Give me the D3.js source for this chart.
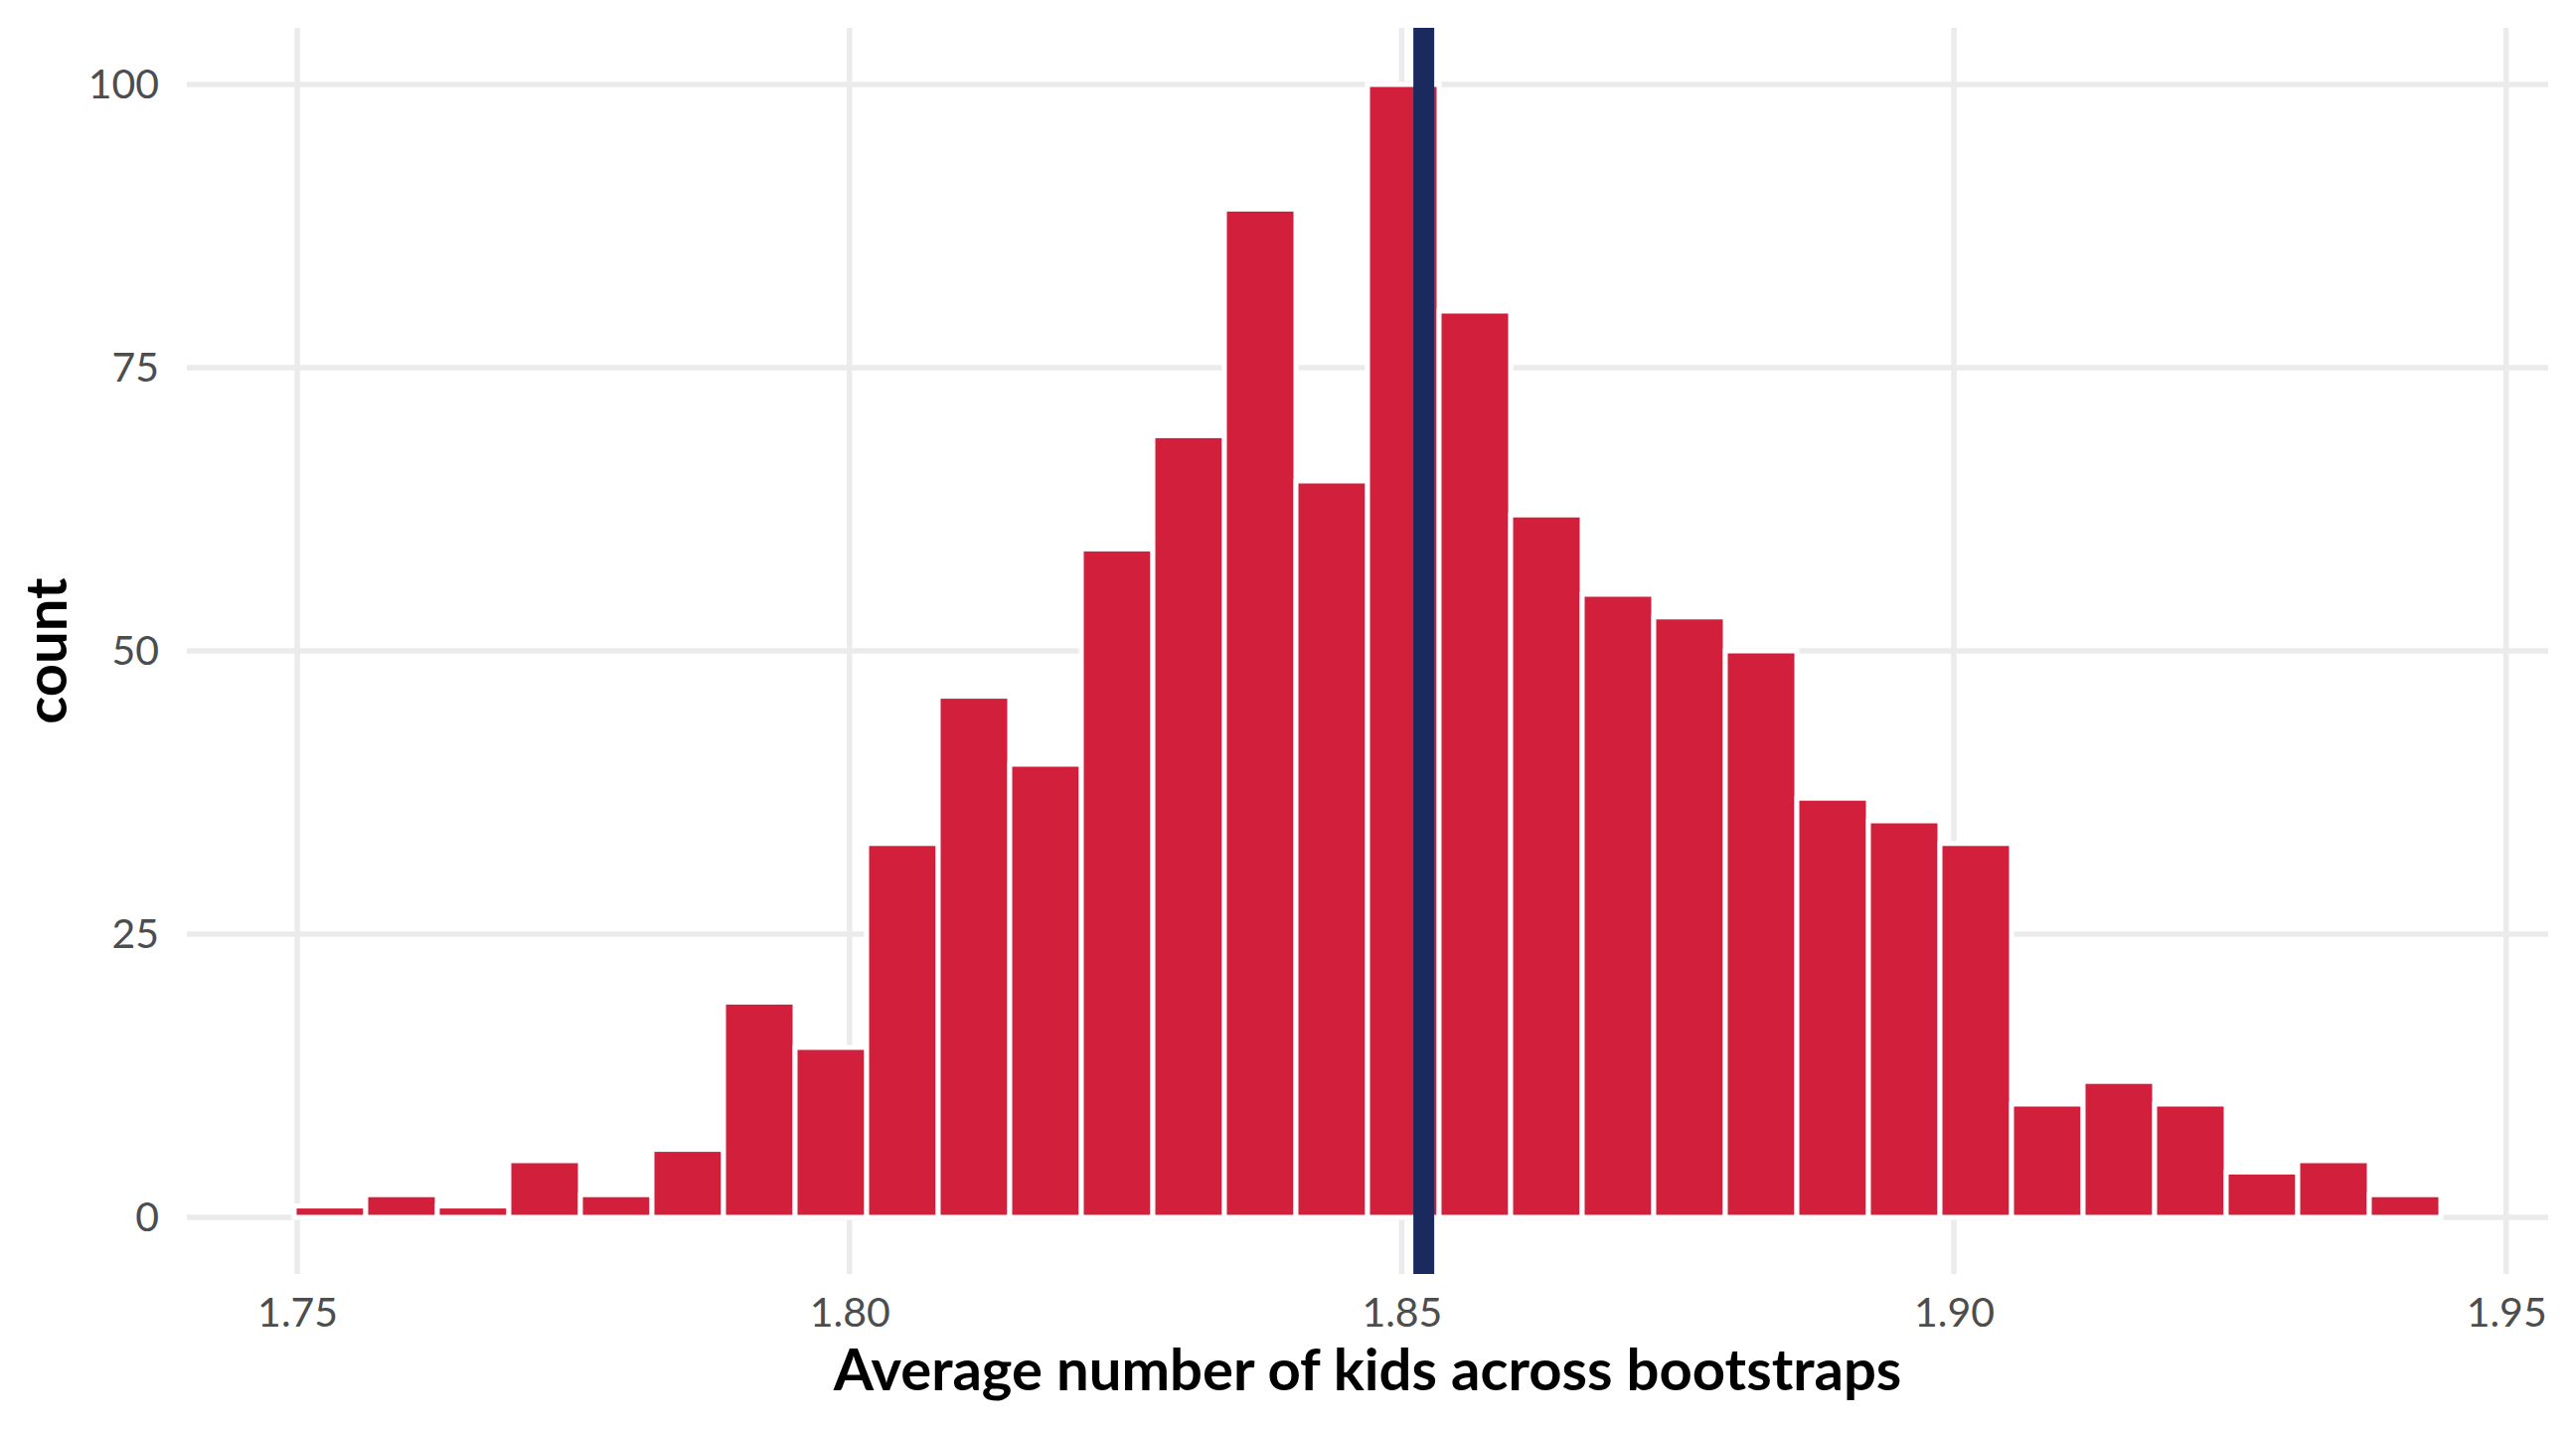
<!DOCTYPE html>
<html>
<head>
<meta charset="utf-8">
<script src="https://cdn.jsdelivr.net/npm/d3@7"></script>
<style>
  body { margin: 0; background: #fff; }
  text { font-family: Lato, "Noto Sans", sans-serif; }
</style>
</head>
<body>
<div id="chart"></div>
<script>
// histogram data: 30 bins, counts per bin
var binStart = 1.74972;
var binWidth = 0.006479;
var counts = [1, 2, 1, 5, 2, 6, 19, 15, 33, 46, 40, 59, 69, 89, 65,
              100, 80, 62, 55, 53, 50, 37, 35, 33, 10, 12, 10, 4, 5, 2];
var meanValue = 1.852;
var xTicks = [1.75, 1.80, 1.85, 1.90, 1.95];
var yTicks = [0, 25, 50, 75, 100];

var svgWidth = 2592;
var svgHeight = 1440;

// panel box
var panel = { left: 188, right: 2564, top: 28, bottom: 1282 };

var svg = d3.select("#chart")
  .append("svg")
    .attr("width", svgWidth)
    .attr("height", svgHeight);

var bins = counts.map(function (c, i) {
  return { x0: binStart + i * binWidth, x1: binStart + (i + 1) * binWidth, count: c };
});

// ggplot style 5% expansion around the bars
var xMin = bins[0].x0, xMax = bins[bins.length - 1].x1;
var xPad = (xMax - xMin) * 0.05;
var xScale = d3.scaleLinear()
  .domain([xMin - xPad, xMax + xPad])
  .range([panel.left, panel.right]);

var yMax = d3.max(counts);
var yScale = d3.scaleLinear()
  .domain([-yMax * 0.05, yMax * 1.05])
  .range([panel.bottom, panel.top]);

// grid lines
var grid = svg.append("g").attr("stroke", "#ebebeb").attr("stroke-width", 5.5);
grid.selectAll("line.vx")
  .data(xTicks)
  .enter()
  .append("line")
    .attr("x1", d => xScale(d)).attr("x2", d => xScale(d))
    .attr("y1", panel.top).attr("y2", panel.bottom);
grid.selectAll("line.hy")
  .data(yTicks)
  .enter()
  .append("line")
    .attr("y1", d => yScale(d)).attr("y2", d => yScale(d))
    .attr("x1", panel.left).attr("x2", panel.right);

// bars
svg.append("g").selectAll("rect")
  .data(bins)
  .enter()
  .append("rect")
    .attr("x", d => xScale(d.x0))
    .attr("width", d => xScale(d.x1) - xScale(d.x0))
    .attr("y", d => yScale(d.count))
    .attr("height", d => yScale(0) - yScale(d.count))
    .attr("fill", "#d21f3c")
    .attr("stroke", "#ffffff")
    .attr("stroke-width", 5);

// mean line
svg.append("line")
  .attr("x1", xScale(meanValue)).attr("x2", xScale(meanValue))
  .attr("y1", panel.top).attr("y2", panel.bottom)
  .attr("stroke", "#1b2a5e")
  .attr("stroke-width", 21);

// axes: only labels, no domain or ticks
var bottomAxis = d3.axisBottom(xScale).tickValues(xTicks).tickFormat(d3.format(".2f")).tickSize(0).tickPadding(0);
var leftAxis = d3.axisLeft(yScale).tickValues(yTicks).tickSize(0).tickPadding(0);

var gx = svg.append("g")
  .attr("transform", `translate(0, 1306)`)
  .call(bottomAxis);
gx.select(".domain").remove();
gx.selectAll("text")
  .attr("dy", "0.71em")
  .style("font-size", "41px")
  .attr("fill", "#4d4d4d");

var gy = svg.append("g")
  .attr("transform", `translate(160, 0)`)
  .call(leftAxis);
gy.select(".domain").remove();
gy.selectAll("text")
  .style("font-size", "41px")
  .attr("fill", "#4d4d4d");

// axis titles
svg.append("text")
  .attr("x", (panel.left + panel.right) / 2)
  .attr("y", 1399)
  .attr("text-anchor", "middle")
  .style("font-size", "58px")
  .style("font-weight", "bold")
  .attr("fill", "#000")
  .text("Average number of kids across bootstraps");

svg.append("text")
  .attr("transform", `translate(67, ${(panel.top + panel.bottom) / 2}) rotate(-90)`)
  .attr("text-anchor", "middle")
  .style("font-size", "58px")
  .style("font-weight", "bold")
  .attr("fill", "#000")
  .text("count");
</script>
</body>
</html>
